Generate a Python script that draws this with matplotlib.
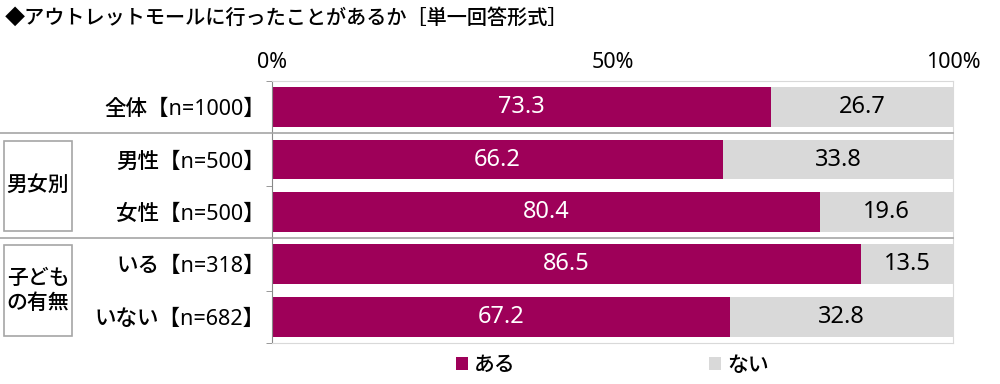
import matplotlib.pyplot as plt
from matplotlib.patches import Rectangle
from matplotlib.lines import Line2D
from matplotlib.transforms import blended_transform_factory

plt.rcParams['font.family'] = ['Noto Sans', 'Noto Sans CJK JP', 'DejaVu Sans']
plt.rcParams['font.weight'] = 'medium'

# data
labels = ['全体【n=1000】', '男性【n=500】', '女性【n=500】', 'いる【n=318】', 'いない【n=682】']
aru = [73.3, 66.2, 80.4, 86.5, 67.2]
nai = [26.7, 33.8, 19.6, 13.5, 32.8]
groups = [('男女別', 1, 2), ('子ども\nの有無', 3, 4)]
c_aru = '#9E0059'
c_nai = '#D9D9D9'

fig = plt.figure(figsize=(10, 3.84), dpi=100)
ax = fig.add_axes([0.272, 0.107, 0.681, 0.682])

y = list(range(len(labels)))
ax.barh(y, aru, height=0.76, color=c_aru, label='ある')
ax.barh(y, nai, left=aru, height=0.76, color=c_nai, label='ない')

for i in y:
    ax.text(aru[i] / 2, i, f'{aru[i]:.1f}', ha='center', va='center',
            color='white', fontsize=17)
    ax.text(aru[i] + nai[i] / 2, i, f'{nai[i]:.1f}', ha='center', va='center',
            color='black', fontsize=17)

ax.set_xlim(0, 100)
ax.set_ylim(4.5, -0.5)
ax.xaxis.tick_top()
ax.set_xticks([0, 50, 100])
ax.set_xticklabels(['0%', '50%', '100%'], fontsize=15.5)
ax.tick_params(axis='x', length=0, pad=6)
ax.set_yticks(y)
ax.set_yticklabels(labels, fontsize=15.5)
ax.tick_params(axis='y', which='major', length=0, pad=5)
ax.set_yticks([-0.5, 1.5, 3.5, 4.5], minor=True)
ax.tick_params(axis='y', which='minor', length=4, color='#888888')

for s in ['top', 'right', 'bottom']:
    ax.spines[s].set_color('#D9D9D9')
ax.spines['left'].set_color('#888888')

# separator lines and group boxes
tr = blended_transform_factory(fig.transFigure, ax.transData)
for yy in [0.5, 2.5]:
    fig.add_artist(Line2D([0, 0.953], [yy, yy], transform=tr,
                          color='#A6A6A6', lw=1.2))
for name, a, b in groups:
    fig.add_artist(Rectangle((0.004, a - 0.36), 0.068, b - a + 0.72,
                             transform=tr, fill=False, ec='#A6A6A6', lw=1.2))
    fig.text(0.038, (a + b) / 2, name, transform=tr, ha='center',
             va='center', fontsize=15, linespacing=1.25)

fig.text(0.005, 0.95, '◆アウトレットモールに行ったことがあるか［単一回答形式］',
         ha='left', va='center', fontsize=14.5)

ax.legend(loc='center', bbox_to_anchor=(0.5, -0.085), ncol=2,
          frameon=False, fontsize=15, handlelength=0.55, handleheight=0.55,
          handletextpad=0.3, columnspacing=9.3)

fig.savefig('out.png', dpi=100)
